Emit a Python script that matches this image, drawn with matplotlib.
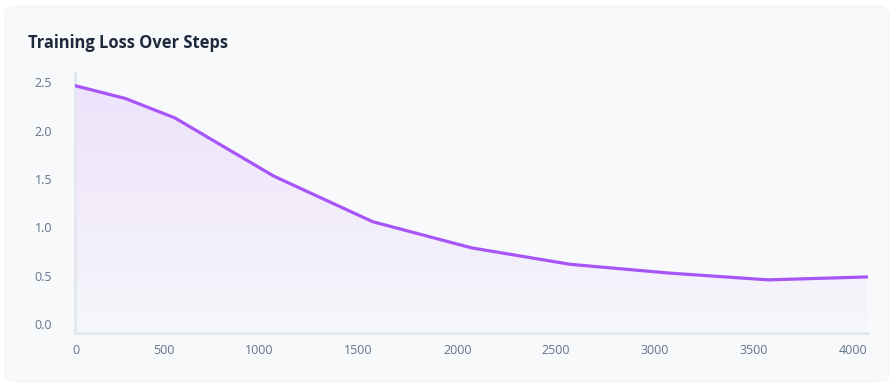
import numpy as np
import matplotlib
matplotlib.use("Agg")
import matplotlib.pyplot as plt
from matplotlib.patches import FancyBboxPatch, Polygon

# training loss
steps = [0, 250, 500, 1000, 1500, 2000, 2500, 3000, 3500, 4000]
loss = [2.46, 2.33, 2.13, 1.53, 1.06, 0.79, 0.62, 0.53, 0.46, 0.49]
x_ticks = [0, 500, 1000, 1500, 2000, 2500, 3000, 3500, 4000]
y_ticks = [0.0, 0.5, 1.0, 1.5, 2.0, 2.5]

LINE = "#a855f7"
AXIS = "#e2e8f0"
TICK = "#64748b"
CARD = "#f8f9fb"

plt.rcParams['font.family'] = ['Open Sans', 'DejaVu Sans']

fig = plt.figure(figsize=(8.93, 3.89), dpi=100)
fig.patch.set_facecolor("white")

# card background (drawn below the axes)
card = FancyBboxPatch((5 / 893, 7 / 389), 884 / 893, 376 / 389,
                      boxstyle="round,pad=0,rounding_size=0.02",
                      transform=fig.transFigure, facecolor=CARD,
                      edgecolor="#f0f1f4", linewidth=0.6, zorder=-10)
fig.add_artist(card)

fig.text(28 / 893, 1 - 43 / 389, "Training Loss Over Steps", fontsize=11.9,
         fontweight="bold", color="#1e293b", va="center", ha="left")

ax = fig.add_axes([75 / 893, 56 / 389, 793 / 893, 260 / 389])
ax.set_facecolor("none")
ax.set_xlim(-5, 4005)
ax.set_ylim(-0.088, 2.593)

# gradient fill under the line
y_top = max(loss)
y_bot = ax.get_ylim()[0]
grad = np.linspace(0, 1, 256)
rgba = np.zeros((256, 1, 4))
rgba[..., :3] = matplotlib.colors.to_rgb(LINE)
rgba[:, 0, 3] = 0.02 + 0.12 * grad
img = ax.imshow(rgba, extent=[steps[0], steps[-1], y_bot, y_top],
                origin="lower", aspect="auto", zorder=1, interpolation="bilinear")
poly = Polygon(list(zip(steps, loss)) + [(steps[-1], y_bot), (steps[0], y_bot)],
               closed=True, facecolor="none", edgecolor="none")
ax.add_patch(poly)
img.set_clip_path(poly)
ax.set_xlim(-5, 4005)
ax.set_ylim(-0.088, 2.593)

ax.plot(steps, loss, color=LINE, lw=2.3, solid_joinstyle="round", zorder=3)

for s in ["top", "right"]:
    ax.spines[s].set_visible(False)
for s in ["left", "bottom"]:
    ax.spines[s].set_color(AXIS)
    ax.spines[s].set_linewidth(2)

ax.set_xticks(x_ticks)
ax.set_xticklabels([str(t) for t in x_ticks])
ax.set_yticks(y_ticks)
ax.set_yticklabels([f"{t:.1f}" for t in y_ticks])
ax.tick_params(axis="both", length=0, colors=TICK, labelsize=9)
ax.tick_params(axis="x", pad=8)
ax.tick_params(axis="y", pad=16.5)
for i, lab in enumerate(ax.get_xticklabels()):
    lab.set_ha("center" if i == 0 else "right")

fig.savefig("out.png", dpi=100)
